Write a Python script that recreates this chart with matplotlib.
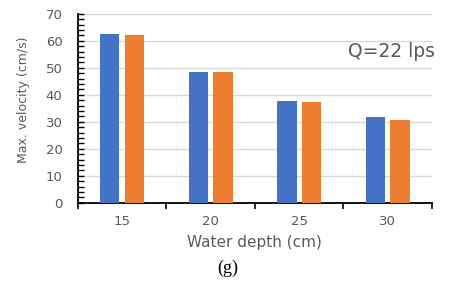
import matplotlib.pyplot as plt
import numpy as np
from matplotlib.ticker import MultipleLocator, FixedLocator

plt.rcParams['font.family'] = ['DejaVu Sans']

depths = ['15', '20', '25', '30']
series_a = [62.5, 48.6, 37.9, 31.7]
series_b = [62.2, 48.6, 37.3, 30.7]

grey = '#595959'

fig = plt.figure(figsize=(4.5, 2.89), dpi=100)
ax = fig.add_axes([0.173, 0.298, 0.787, 0.654])

x = np.arange(len(depths))
w = 0.22
ax.bar(x - 0.14, series_a, w, color='#4472C4', zorder=3)
ax.bar(x + 0.14, series_b, w, color='#ED7D31', zorder=3)

ax.set_xlim(-0.5, 3.5)
ax.set_ylim(0, 70)
ax.yaxis.set_major_locator(MultipleLocator(10))
ax.yaxis.set_minor_locator(MultipleLocator(2))
ax.grid(axis='y', color='#d9d9d9', linewidth=1, zorder=0)

ax.xaxis.set_major_locator(FixedLocator(np.arange(-0.5, 4, 1)))
ax.xaxis.set_major_formatter(plt.NullFormatter())
ax.set_xticks(x, depths, minor=True)
ax.tick_params(axis='x', which='major', direction='out', length=4, width=1.2, color='black')
ax.tick_params(axis='x', which='minor', length=0, pad=9, labelsize=9.5, labelcolor=grey)
ax.tick_params(axis='y', which='both', direction='in', length=4, width=1, color='black',
               pad=11, labelsize=9.5, labelcolor=grey)

for s in ['top', 'right']:
    ax.spines[s].set_visible(False)
for s in ['left', 'bottom']:
    ax.spines[s].set_linewidth(1.3)
    ax.spines[s].set_color('black')

ax.set_xlabel('Water depth (cm)', fontsize=11, color=grey, labelpad=5)
ax.set_ylabel('Max. velocity (cm/s)', fontsize=9, color=grey)
ax.yaxis.set_label_coords(-0.136, 0.545)
ax.text(1.008, 0.80, 'Q=22 lps', transform=ax.transAxes, ha='right', va='center',
        fontsize=13.5, color=grey)

fig.text(0.505, 0.072, '(g)', ha='center', va='center', fontsize=13,
         family='Liberation Serif')

plt.savefig('out.png', dpi=100)
